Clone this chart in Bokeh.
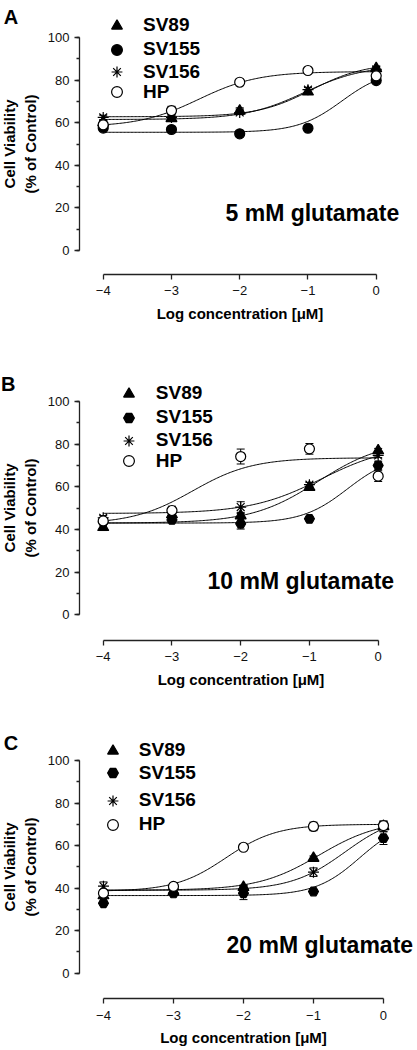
import numpy as np
from bokeh.plotting import figure
from bokeh.models import (ColumnDataSource, Range1d, Legend, LegendItem, Label, Whisker,
                          TeeHead, SingleIntervalTicker, FixedTicker)
from bokeh.layouts import column
from bokeh.embed import file_html
from bokeh.resources import INLINE

FONT = "Liberation Sans"

log_conc = [-4, -3, -2, -1, 0]
series_names = ["SV89", "SV155", "SV156", "HP"]

# ---------- Panel A: 5 mM glutamate ----------
a_sv89 = [60.0, 62.0, 65.5, 74.5, 85.5]
a_sv155 = [57.5, 56.8, 54.8, 57.4, 79.8]
a_sv156 = [62.5, 62.5, 64.8, 75.5, 85.0]
a_hp = [59.0, 65.7, 79.0, 84.5, 82.0]
a_sv89_err = [1.0, 1.0, 1.5, 1.0, 1.0]
a_sv155_err = [1.0, 1.0, 1.0, 1.0, 1.0]
a_sv156_err = [1.0, 1.0, 1.0, 1.0, 1.0]
a_hp_err = [1.0, 2.0, 1.0, 1.0, 1.5]
# fitted curve parameters: bottom, top, logEC50, hill
a_fit_sv89 = [61.5, 87.0, -1.05, 1.0]
a_fit_sv155 = [55.5, 85.0, -0.5, 1.35]
a_fit_sv156 = [62.8, 88.0, -0.95, 1.1]
a_fit_hp = [58.0, 84.0, -2.6, 1.0]

# ---------- Panel B: 10 mM glutamate ----------
b_sv89 = [41.0, 47.0, 46.5, 59.8, 77.0]
b_sv155 = [43.5, 44.5, 42.7, 45.0, 70.0]
b_sv156 = [45.5, 48.0, 50.5, 61.0, 74.7]
b_hp = [44.0, 48.9, 74.2, 77.8, 65.0]
b_sv89_err = [1.5, 1.0, 1.0, 1.0, 1.0]
b_sv155_err = [1.0, 1.0, 2.5, 1.0, 2.0]
b_sv156_err = [1.0, 1.0, 2.5, 1.0, 1.0]
b_hp_err = [1.0, 2.0, 3.5, 2.5, 2.5]
b_fit_sv89 = [43.0, 82.0, -0.875, 0.9]
b_fit_sv155 = [43.0, 75.0, -0.448, 1.325]
b_fit_sv156 = [47.5, 80.0, -0.823, 0.84]
b_fit_hp = [42.5, 73.6, -2.7, 1.0]

# ---------- Panel C: 20 mM glutamate ----------
c_sv89 = [36.5, 38.5, 40.4, 54.1, 69.0]
c_sv155 = [32.9, 37.5, 37.6, 38.4, 63.5]
c_sv156 = [40.9, 39.5, 39.5, 47.5, 69.5]
c_hp = [37.6, 40.8, 59.2, 69.0, 69.4]
c_sv89_err = [1.0, 1.0, 1.0, 1.0, 2.5]
c_sv155_err = [1.0, 1.0, 3.0, 1.0, 3.0]
c_sv156_err = [2.0, 1.0, 1.0, 2.0, 2.0]
c_hp_err = [1.0, 1.0, 1.0, 2.0, 1.0]
c_fit_sv89 = [39.0, 72.0, -0.92, 1.0]
c_fit_sv155 = [36.5, 72.0, -0.34, 1.378]
c_fit_sv156 = [39.0, 75.0, -0.548, 1.128]
c_fit_hp = [38.5, 70.0, -2.25, 1.2]

y_ticks_interval = 20


def make_panel(letter, cond_text, values, errs, fits, sv155_marker, cfg):
    W, H = 417, cfg["height"]
    x0, x1 = cfg["xr"]
    y0, y1 = cfg["yr"]
    ppx = W / (x1 - x0)
    ppy = H / (y1 - y0)

    def dx(px):
        return x0 + px / ppx

    def dy(py):
        return y1 - py / ppy

    p = figure(width=W, height=H, output_backend="svg", toolbar_location=None,
               x_range=Range1d(x0, x1), y_range=Range1d(y0, y1),
               min_border_left=0, min_border_right=0, min_border_top=0, min_border_bottom=0)
    p.title.visible = False
    p.outline_line_color = None
    p.xgrid.visible = False
    p.ygrid.visible = False
    p.background_fill_color = "white"
    p.border_fill_color = "white"

    # fitted curves
    xs = np.linspace(log_conc[0], log_conc[-1], 200)
    for fit in fits:
        b, t, c, h = fit
        ys = b + (t - b) / (1 + 10 ** ((c - xs) * h))
        p.line(xs, ys, line_color="black", line_width=1)

    markers = ["triangle", sv155_marker, "asterisk", "circle"]
    fills = ["black", "black", "black", "white"]
    sizes = [11, 10, 11, 10]
    renderers = []
    for vals, err, mk, fc, sz in zip(values, errs, markers, fills, sizes):
        src = ColumnDataSource(dict(x=log_conc, y=vals,
                                    upper=[v + e for v, e in zip(vals, err)],
                                    lower=[v - e for v, e in zip(vals, err)]))
        w = Whisker(base="x", upper="upper", lower="lower", source=src,
                    line_color="black", line_width=1,
                    upper_head=TeeHead(size=8, line_color="black", line_width=1),
                    lower_head=TeeHead(size=8, line_color="black", line_width=1))
        p.add_layout(w)
        r = p.scatter("x", "y", source=src, marker=mk, size=sz, fill_color=fc,
                      line_color="black", line_width=1.2)
        renderers.append(r)

    # one legend per entry, so rows can sit exactly where the reference has them
    mx, stand = cfg["leg_x"], cfg["leg_standoff"]
    for name, r, cy in zip(series_names, renderers, cfg["leg_y"]):
        leg = Legend(items=[LegendItem(label=name, renderers=[r])],
                     location=(mx - 13.5, H - (cy + 13.5)),
                     border_line_color=None, background_fill_alpha=0, padding=0, margin=0,
                     glyph_width=27, glyph_height=27, label_height=20,
                     label_standoff=stand, label_text_font=FONT,
                     label_text_font_size="19px", label_text_font_style="bold",
                     label_text_color="black")
        p.add_layout(leg)

    # axes
    ya = p.yaxis[0]
    ya.fixed_location = dx(79)
    ya.bounds = (0, 100)
    ya.ticker = SingleIntervalTicker(interval=y_ticks_interval, num_minor_ticks=2)
    ya.axis_label = "Cell Viability\n(% of Control)"
    ya.axis_label_text_font = FONT
    ya.axis_label_text_font_size = "15px"
    ya.axis_label_text_font_style = "bold"
    ya.axis_label_text_color = "black"
    ya.axis_label_text_line_height = 1.2
    ya.axis_label_standoff = 6
    ya.major_label_standoff = 5

    xa = p.xaxis[0]
    xa.fixed_location = dy(cfg["xaxis_py"])
    xa.bounds = (log_conc[0], log_conc[-1])
    xa.ticker = FixedTicker(ticks=log_conc)
    xa.axis_label = "Log concentration [\u03bcM]"
    xa.axis_label_text_font = FONT
    xa.axis_label_text_font_size = "15px"
    xa.axis_label_text_font_style = "bold"
    xa.axis_label_text_color = "black"
    xa.axis_label_standoff = 6
    xa.major_label_standoff = 7

    for ax in (xa, ya):
        ax.axis_line_color = "#222222"
        ax.axis_line_width = 1.3
        ax.major_tick_line_color = "#222222"
        ax.major_tick_line_width = 1.3
        ax.minor_tick_line_color = "#222222"
        ax.minor_tick_line_width = 1.3
        ax.major_tick_in = 0
        ax.major_tick_out = 5
        ax.minor_tick_in = 0
        ax.minor_tick_out = 3
        ax.major_label_text_font = FONT
        ax.major_label_text_font_size = "13px"
        ax.major_label_text_color = "#111111"
    xa.minor_tick_out = 0

    lx, ly = cfg["letter_px"]
    p.add_layout(Label(x=dx(lx), y=dy(ly), text=letter, text_font=FONT,
                       text_font_size="20px", text_font_style="bold", text_color="black",
                       text_baseline="alphabetic", text_align="left"))
    cx, cy = cfg["cond_px"]
    p.add_layout(Label(x=dx(cx), y=dy(cy), text=cond_text, text_font=FONT,
                       text_font_size="23px", text_font_style="bold", text_color="black",
                       text_baseline="middle", text_align="left"))
    return p


pA = make_panel("A", "5  mM glutamate",
                [a_sv89, a_sv155, a_sv156, a_hp],
                [a_sv89_err, a_sv155_err, a_sv156_err, a_hp_err],
                [a_fit_sv89, a_fit_sv155, a_fit_sv156, a_fit_hp], "circle",
                dict(height=335, xr=(-5.505, 0.605), yr=(-39.9, 117.37), xaxis_py=273.7,
                     leg_x=116.5, leg_y=[25.0, 49.3, 71.7, 91.7], leg_standoff=13,
                     letter_px=(3.3, 16.7), cond_px=(225, 212)))
pB = make_panel("B", "10  mM glutamate",
                [b_sv89, b_sv155, b_sv156, b_hp],
                [b_sv89_err, b_sv155_err, b_sv156_err, b_hp_err],
                [b_fit_sv89, b_fit_sv155, b_fit_sv156, b_fit_hp], "hex",
                dict(height=365, xr=(-5.494, 0.572), yr=(-40.18, 130.94), xaxis_py=304.7,
                     leg_x=128.3, leg_y=[58.3, 82.3, 105.0, 125.7], leg_standoff=14,
                     letter_px=(0.5, 48.3), cond_px=(207, 245)))
pC = make_panel("C", "20  mM glutamate",
                [c_sv89, c_sv155, c_sv156, c_hp],
                [c_sv89_err, c_sv155_err, c_sv156_err, c_hp_err],
                [c_fit_sv89, c_fit_sv155, c_fit_sv156, c_fit_hp], "hex",
                dict(height=350, xr=(-5.471, 0.486), yr=(-36.34, 128.2), xaxis_py=298.3,
                     leg_x=112.3, leg_y=[50.0, 72.7, 100.0, 124.0], leg_standoff=13,
                     letter_px=(3.3, 42.7), cond_px=(226, 244.3)))

layout = column(pA, pB, pC, spacing=0)
open("out.html", "w").write(file_html(layout, INLINE))
